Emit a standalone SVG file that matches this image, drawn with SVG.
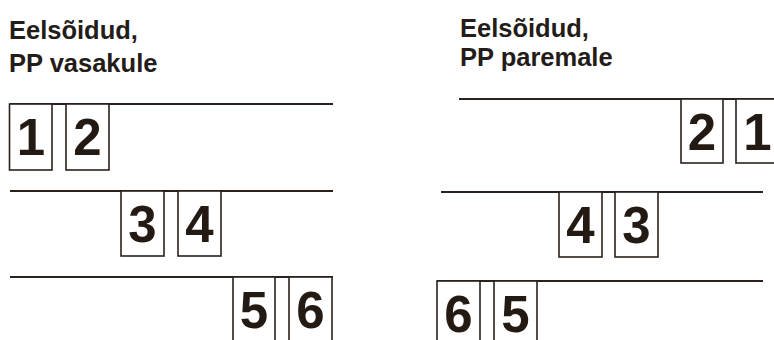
<svg xmlns="http://www.w3.org/2000/svg" width="774" height="340" viewBox="0 0 774 340">
<style>
.t{font-family:"Liberation Sans",Arial,sans-serif;font-weight:bold;font-size:25.5px;fill:#231c18}
.n{font-family:"Liberation Sans",Arial,sans-serif;font-weight:bold;font-size:51px;fill:#231a14;text-anchor:middle}
.b{fill:#fff;stroke:#2a211c;stroke-width:1.6}
.l{stroke:#2a211c;stroke-width:2;fill:none}
</style>
<rect width="774" height="340" fill="#fff"/>
<g id="titles">
<text class="t" x="9" y="39">Eelsõidud,</text>
<text class="t" x="9" y="72">PP vasakule</text>
<text class="t" x="460" y="37">Eelsõidud,</text>
<text class="t" x="460" y="66">PP paremale</text>
</g>
<g id="connectors">
<line class="l" x1="10" y1="104" x2="333" y2="104"/>
<line class="l" x1="10" y1="191" x2="333" y2="191"/>
<line class="l" x1="10" y1="277" x2="333" y2="277"/>
<line class="l" x1="459" y1="99" x2="774" y2="99"/>
<line class="l" x1="441" y1="192" x2="763" y2="192"/>
<line class="l" x1="437" y1="281" x2="763" y2="281"/>
</g>
<g id="n1"><rect class="b" x="9.5" y="104" width="42.5" height="66"/><text class="n" x="31" y="155">1</text></g>
<g id="n2"><rect class="b" x="66" y="104" width="43" height="66"/><text class="n" x="87.5" y="155">2</text></g>
<g id="n3"><rect class="b" x="121" y="191" width="43" height="65"/><text class="n" x="142.5" y="242">3</text></g>
<g id="n4"><rect class="b" x="178" y="191" width="43" height="65"/><text class="n" x="199.5" y="242">4</text></g>
<g id="n5"><rect class="b" x="233" y="277" width="42" height="70"/><text class="n" x="254" y="328">5</text></g>
<g id="n6"><rect class="b" x="289" y="277" width="43" height="70"/><text class="n" x="310.5" y="328">6</text></g>
<g id="r2"><rect class="b" x="681" y="99" width="42" height="64"/><text class="n" x="702" y="150">2</text></g>
<g id="r1"><rect class="b" x="736" y="99" width="43" height="64"/><text class="n" x="757.5" y="150">1</text></g>
<g id="r4"><rect class="b" x="559" y="192" width="43" height="65"/><text class="n" x="580.5" y="243">4</text></g>
<g id="r3"><rect class="b" x="615" y="192" width="43" height="65"/><text class="n" x="636.5" y="243">3</text></g>
<g id="r6"><rect class="b" x="437" y="281" width="43" height="70"/><text class="n" x="458.5" y="332">6</text></g>
<g id="r5"><rect class="b" x="494" y="281" width="43" height="70"/><text class="n" x="515.5" y="332">5</text></g>
</svg>
